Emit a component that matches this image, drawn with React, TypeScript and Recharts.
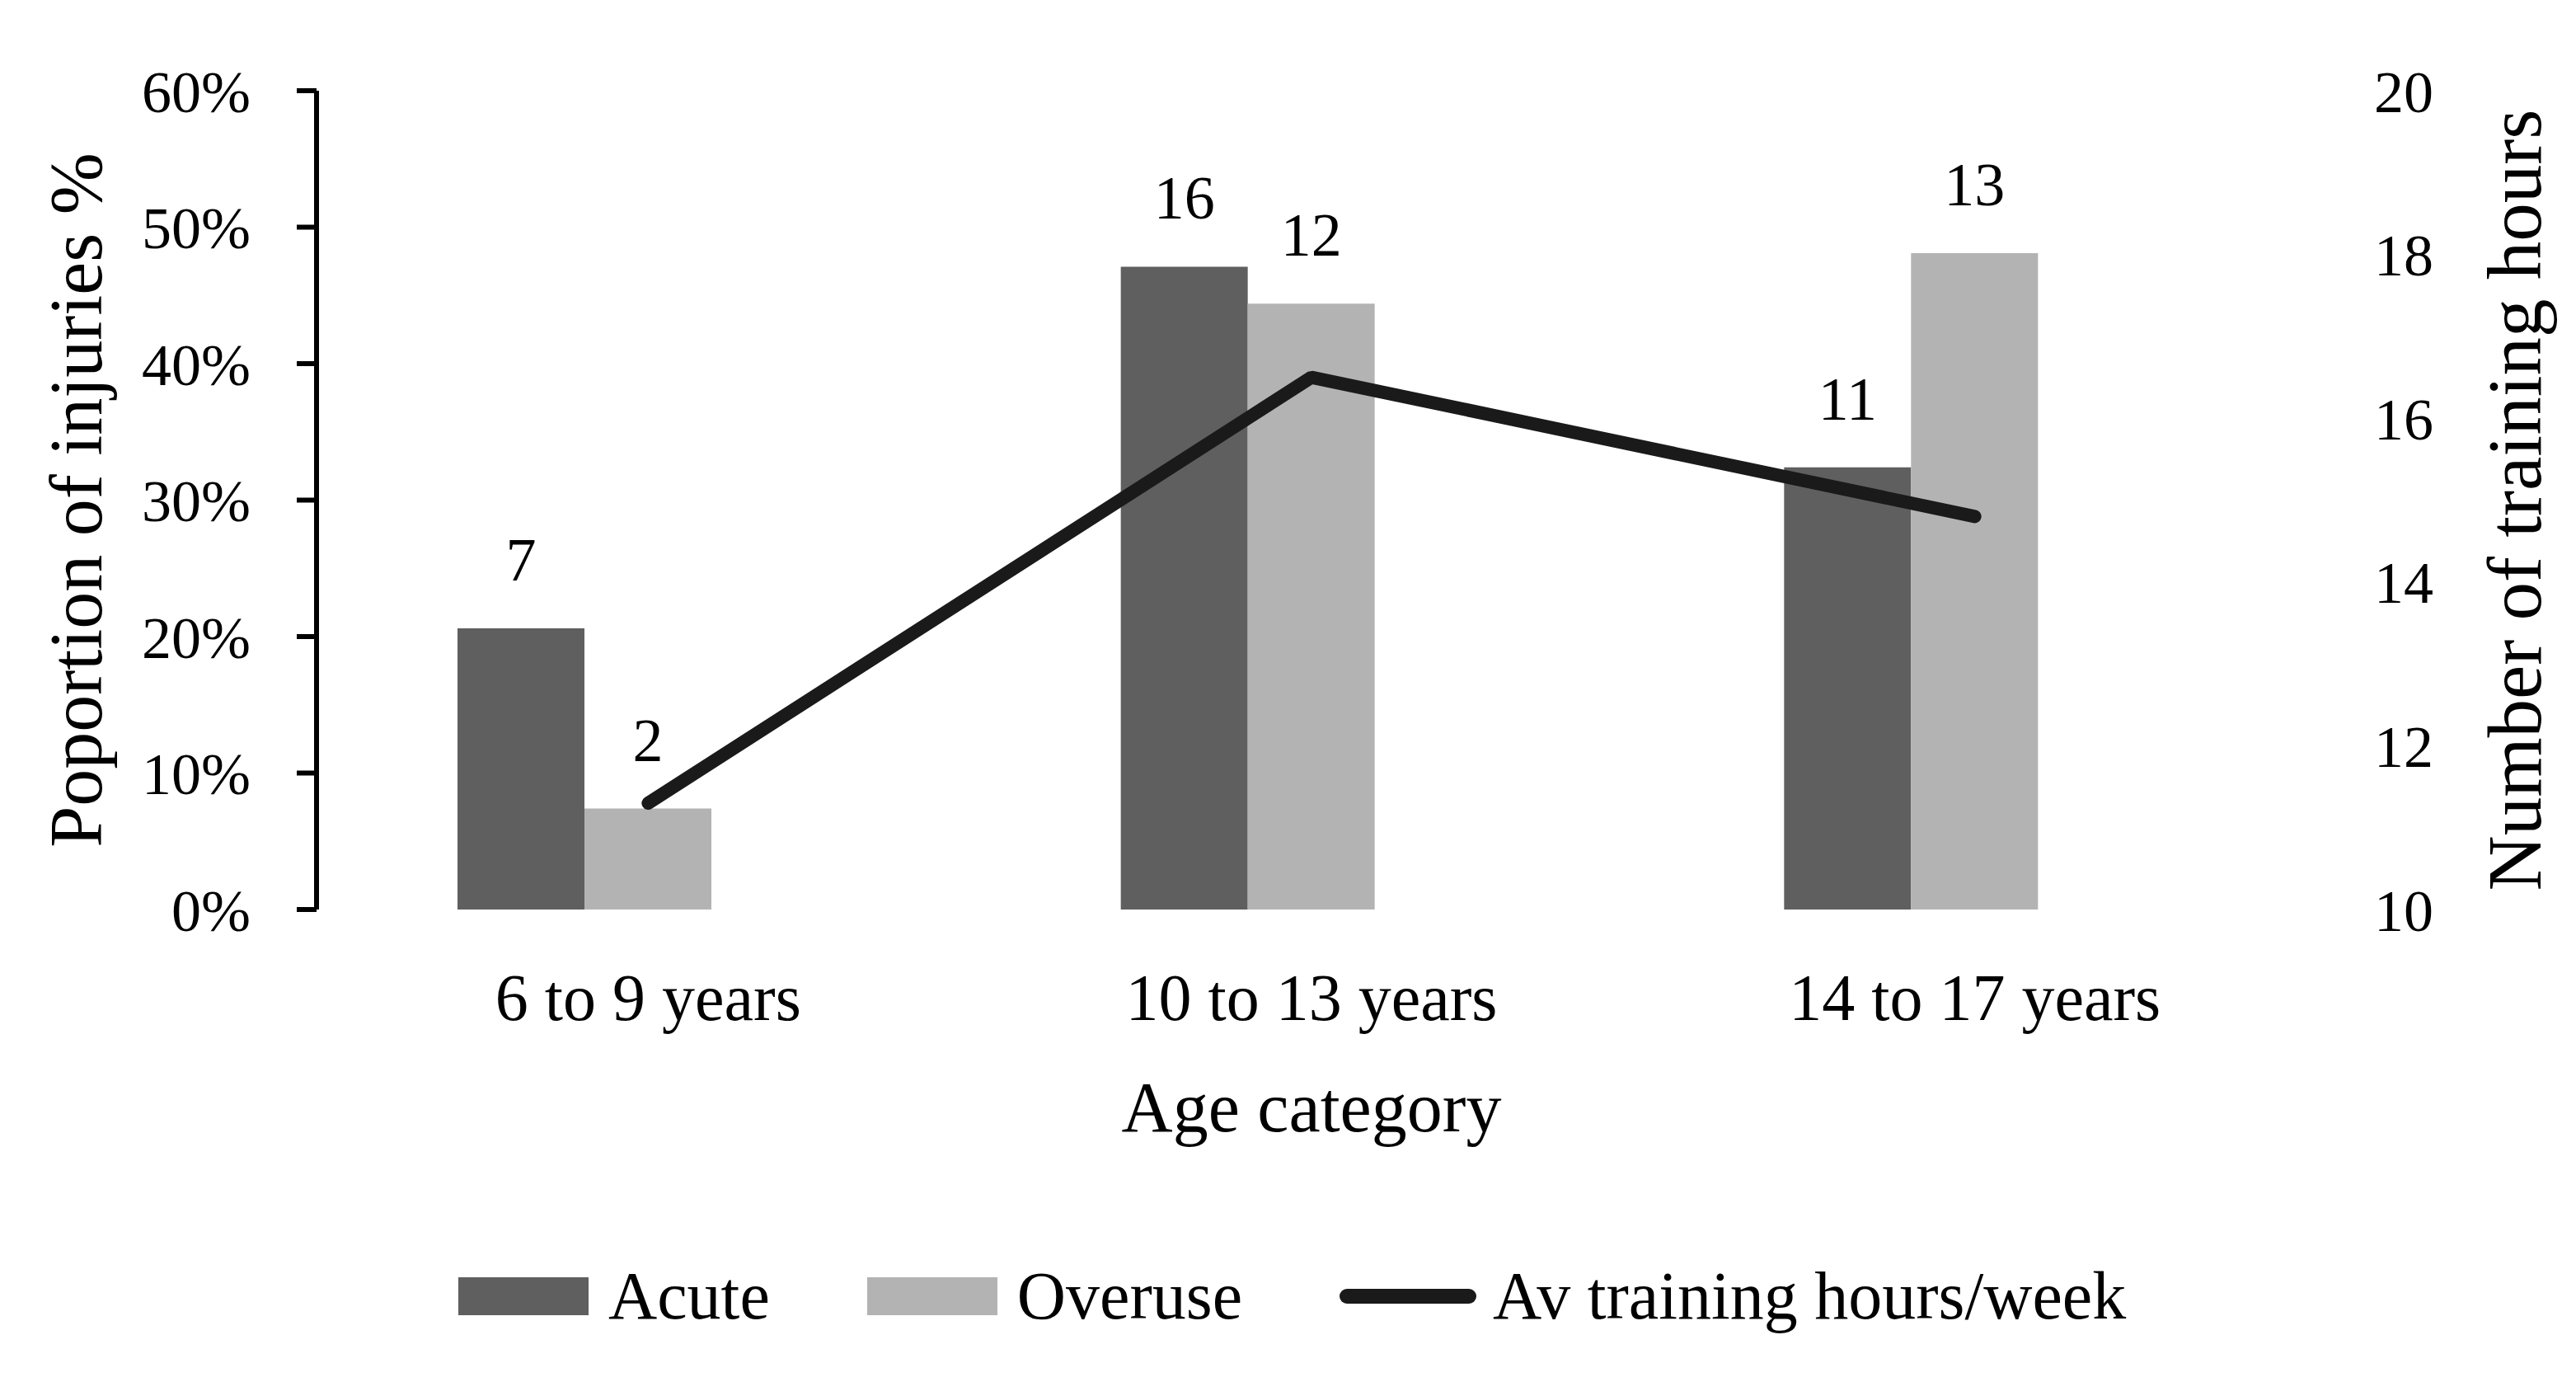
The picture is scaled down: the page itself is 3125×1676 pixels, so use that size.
import React from 'react';
import {
  ComposedChart,
  Bar,
  Line,
  XAxis,
  YAxis,
  Legend,
  LabelList,
} from 'recharts';

const categories = ['6 to 9 years', '10 to 13 years', '14 to 17 years'];
const acutePct = [20.6, 47.1, 32.4];
const overusePct = [7.4, 44.4, 48.1];
const acuteCount = [7, 16, 11];
const overuseCount = [2, 12, 13];
const trainingHours = [11.3, 16.5, 14.8];
const pctTicks = [0, 10, 20, 30, 40, 50, 60];
const hourTicks = [10, 12, 14, 16, 18, 20];
const boundaryTicks = [0, 1, 2, 3];
const seriesNames = ['Acute', 'Overuse', 'Av training hours/week'];

const data = categories.map((c, i) => ({
  category: c,
  acute: acutePct[i],
  overuse: overusePct[i],
  acuteN: acuteCount[i],
  overuseN: overuseCount[i],
  hours: trainingHours[i],
  spacer: null as number | null,
}));

const FONT = '"Liberation Serif", "Times New Roman", serif';
const W = 3125;
const H = 1676;

const VerticalTitle = (offsetX: number, text: string, size: number) => (props: any) => {
  const vb = props.viewBox || {};
  const x = vb.x + offsetX;
  const y = vb.y + vb.height / 2;
  return (
    <text
      x={x}
      y={y}
      transform={`rotate(-90, ${x}, ${y})`}
      textAnchor="middle"
      dominantBaseline="central"
      fontSize={size}
      fontFamily={FONT}
      fill="#000"
    >
      {text}
    </text>
  );
};

const renderLegend = (props: any) => {
  const payload = (props.payload || [])
    .filter((p: any) => p.type !== 'none')
    .slice()
    .sort((a: any, b: any) => seriesNames.indexOf(a.value) - seriesNames.indexOf(b.value));
  return (
    <div
      style={{
        height: 304,
        boxSizing: 'border-box',
        paddingTop: 155,
        paddingLeft: 556,
        display: 'flex',
        alignItems: 'flex-start',
        fontFamily: FONT,
        fontSize: 82,
        color: '#000',
      }}
    >
      {payload.map((entry: any, idx: number) => (
        <div
          key={idx}
          style={{
            display: 'flex',
            alignItems: 'center',
            height: 90,
            marginRight: 118,
          }}
        >
          {entry.type === 'line' ? (
            <svg width={166} height={24} style={{ marginRight: 20 }}>
              <line x1={9} y1={12} x2={157} y2={12} stroke={entry.color} strokeWidth={18} strokeLinecap="round" />
            </svg>
          ) : (
            <div style={{ width: 158, height: 46, background: entry.color, marginRight: 24 }} />
          )}
          <span style={{ lineHeight: '90px', whiteSpace: 'nowrap' }}>{entry.value}</span>
        </div>
      ))}
    </div>
  );
};

export default function App() {
  return (
    <div style={{ position: 'absolute', left: 0, top: 0, width: W, height: H, background: '#fff' }}>
      <ComposedChart
        width={W}
        height={H}
        data={data}
        margin={{ top: 110, right: 0, left: 0, bottom: 0 }}
        barCategoryGap="21.25%"
        barGap={0}
      >
        <XAxis
          xAxisId="bound"
          type="number"
          domain={[0, 3]}
          ticks={boundaryTicks}
          allowDataOverflow
          tick={false}
          tickSize={24}
          height={0}
          axisLine={{ stroke: '#000', strokeWidth: 7 }}
          tickLine={{ stroke: '#000', strokeWidth: 6 }}
        />
        <XAxis
          xAxisId="cat"
          dataKey="category"
          axisLine={false}
          tickLine={false}
          tickSize={24}
          tickMargin={53}
          height={269}
          tick={{ fontSize: 80, fontFamily: FONT, fill: '#000' }}
          label={{ value: 'Age category', position: 'insideBottom', offset: 0, fontSize: 86, fontFamily: FONT, fill: '#000' }}
        />
        <YAxis
          yAxisId="pct"
          width={384}
          domain={[0, 60]}
          ticks={pctTicks}
          interval={0}
          tickFormatter={(v: number) => `${v}%`}
          tickSize={24}
          tickMargin={56}
          axisLine={{ stroke: '#000', strokeWidth: 6 }}
          tickLine={{ stroke: '#000', strokeWidth: 6 }}
          tick={{ fontSize: 72, fontFamily: FONT, fill: '#000' }}
          label={VerticalTitle(92, 'Poportion of injuries %', 90)}
        />
        <YAxis
          yAxisId="hrs"
          orientation="right"
          width={327}
          domain={[10, 20]}
          ticks={hourTicks}
          interval={0}
          tickSize={0}
          tickMargin={82}
          axisLine={false}
          tickLine={false}
          tick={{ fontSize: 72, fontFamily: FONT, fill: '#000', textAnchor: 'start' }}
          label={VerticalTitle(252, 'Number of training hours', 93)}
        />
        <Bar xAxisId="cat" yAxisId="pct" dataKey="acute" name="Acute" fill="#5f5f5f" legendType="rect" isAnimationActive={false}>
          <LabelList dataKey="acuteN" position="top" offset={58} fontSize={74} fontFamily={FONT} fill="#000" />
        </Bar>
        <Bar xAxisId="cat" yAxisId="pct" dataKey="overuse" name="Overuse" fill="#b3b3b3" legendType="rect" isAnimationActive={false}>
          <LabelList dataKey="overuseN" position="top" offset={58} fontSize={74} fontFamily={FONT} fill="#000" />
        </Bar>
        <Bar xAxisId="cat" yAxisId="pct" dataKey="spacer" fill="none" legendType="none" isAnimationActive={false} />
        <Line
          xAxisId="cat"
          yAxisId="hrs"
          dataKey="hours"
          name="Av training hours/week"
          stroke="#1a1a1a"
          strokeWidth={16}
          strokeLinecap="round"
          strokeLinejoin="bevel"
          dot={false}
          activeDot={false}
          legendType="line"
          isAnimationActive={false}
        />
        <Legend verticalAlign="bottom" content={renderLegend} />
      </ComposedChart>
    </div>
  );
}
